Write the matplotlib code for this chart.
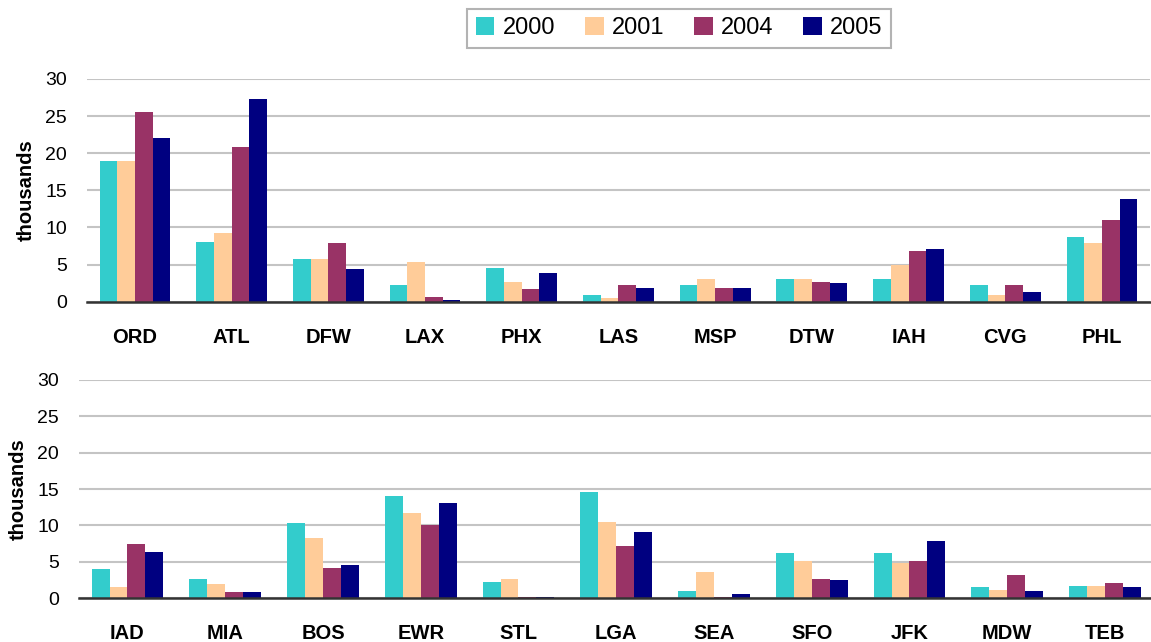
import matplotlib
matplotlib.use("Agg")
import matplotlib.pyplot as plt
import numpy as np

plt.rcParams['font.family'] = ['Liberation Sans', 'DejaVu Sans']

# data (thousands)
years = ['2000', '2001', '2004', '2005']
colors = ['#33CCCC', '#FFCC99', '#993366', '#000080']

top_airports = ['ORD', 'ATL', 'DFW', 'LAX', 'PHX', 'LAS', 'MSP', 'DTW', 'IAH', 'CVG', 'PHL']
top_2000 = [19.0, 8.1, 5.8, 2.3, 4.5, 0.85, 2.3, 3.0, 3.0, 2.3, 8.7]
top_2001 = [19.0, 9.2, 5.8, 5.4, 2.7, 0.45, 3.0, 3.0, 5.0, 0.85, 7.9]
top_2004 = [25.6, 20.8, 7.9, 0.7, 1.7, 2.3, 1.9, 2.7, 6.8, 2.3, 11.0]
top_2005 = [22.0, 27.3, 4.4, 0.3, 3.9, 1.9, 1.8, 2.5, 7.1, 1.3, 13.8]

bot_airports = ['IAD', 'MIA', 'BOS', 'EWR', 'STL', 'LGA', 'SEA', 'SFO', 'JFK', 'MDW', 'TEB']
bot_2000 = [4.0, 2.6, 10.3, 14.0, 2.2, 14.6, 1.0, 6.2, 6.2, 1.5, 1.65]
bot_2001 = [1.5, 1.9, 8.3, 11.7, 2.6, 10.5, 3.6, 5.1, 4.8, 1.1, 1.65]
bot_2004 = [7.4, 0.8, 4.1, 10.0, 0.1, 7.2, 0.1, 2.6, 5.1, 3.2, 2.1]
bot_2005 = [6.3, 0.8, 4.5, 13.1, 0.1, 9.1, 0.55, 2.5, 7.8, 1.0, 1.5]

fig = plt.figure(figsize=(11.51, 6.42), dpi=100)
ax1 = fig.add_axes([0.0752, 0.530, 0.9242, 0.347])
ax2 = fig.add_axes([0.0683, 0.0685, 0.9342, 0.3396])


def draw(ax, labels, series):
    x = np.arange(len(labels))
    w = 0.183
    bars = []
    for i, vals in enumerate(series):
        b = ax.bar(x + (i - 1.5) * w, vals, w, color=colors[i], label=years[i], zorder=3)
        bars.append(b)
    ax.set_xlim(-0.5, len(labels) - 0.5)
    ax.set_ylim(0, 30)
    ax.set_yticks([0, 5, 10, 15, 20, 25, 30])
    ax.grid(axis='y', color='#c4c4c4', linewidth=1.5, zorder=0)
    ax.set_xticks(x)
    ax.set_xticklabels(labels, fontsize=14.5, fontweight='bold')
    ax.tick_params(axis='x', length=0, pad=19)
    ax.tick_params(axis='y', length=0, pad=14, labelsize=14)
    for s in ['top', 'right', 'left']:
        ax.spines[s].set_visible(False)
    ax.spines['bottom'].set_color('#333333')
    ax.spines['bottom'].set_linewidth(1.8)
    ax.spines['bottom'].set_zorder(4)
    ax.set_ylabel('thousands', fontsize=14.5, fontweight='bold', labelpad=7)
    return bars


bars = draw(ax1, top_airports, [top_2000, top_2001, top_2004, top_2005])
draw(ax2, bot_airports, [bot_2000, bot_2001, bot_2004, bot_2005])

leg = fig.legend(handles=bars, labels=years, loc='center', bbox_to_anchor=(0.590, 0.956),
                 ncol=4, fontsize=17, frameon=True, fancybox=False,
                 handlelength=0.8, handleheight=0.8, handletextpad=0.35,
                 columnspacing=1.25, borderpad=0.35)
leg.get_frame().set_edgecolor('#a0a0a0')
leg.get_frame().set_linewidth(1.5)

fig.savefig('out.png', dpi=100)
